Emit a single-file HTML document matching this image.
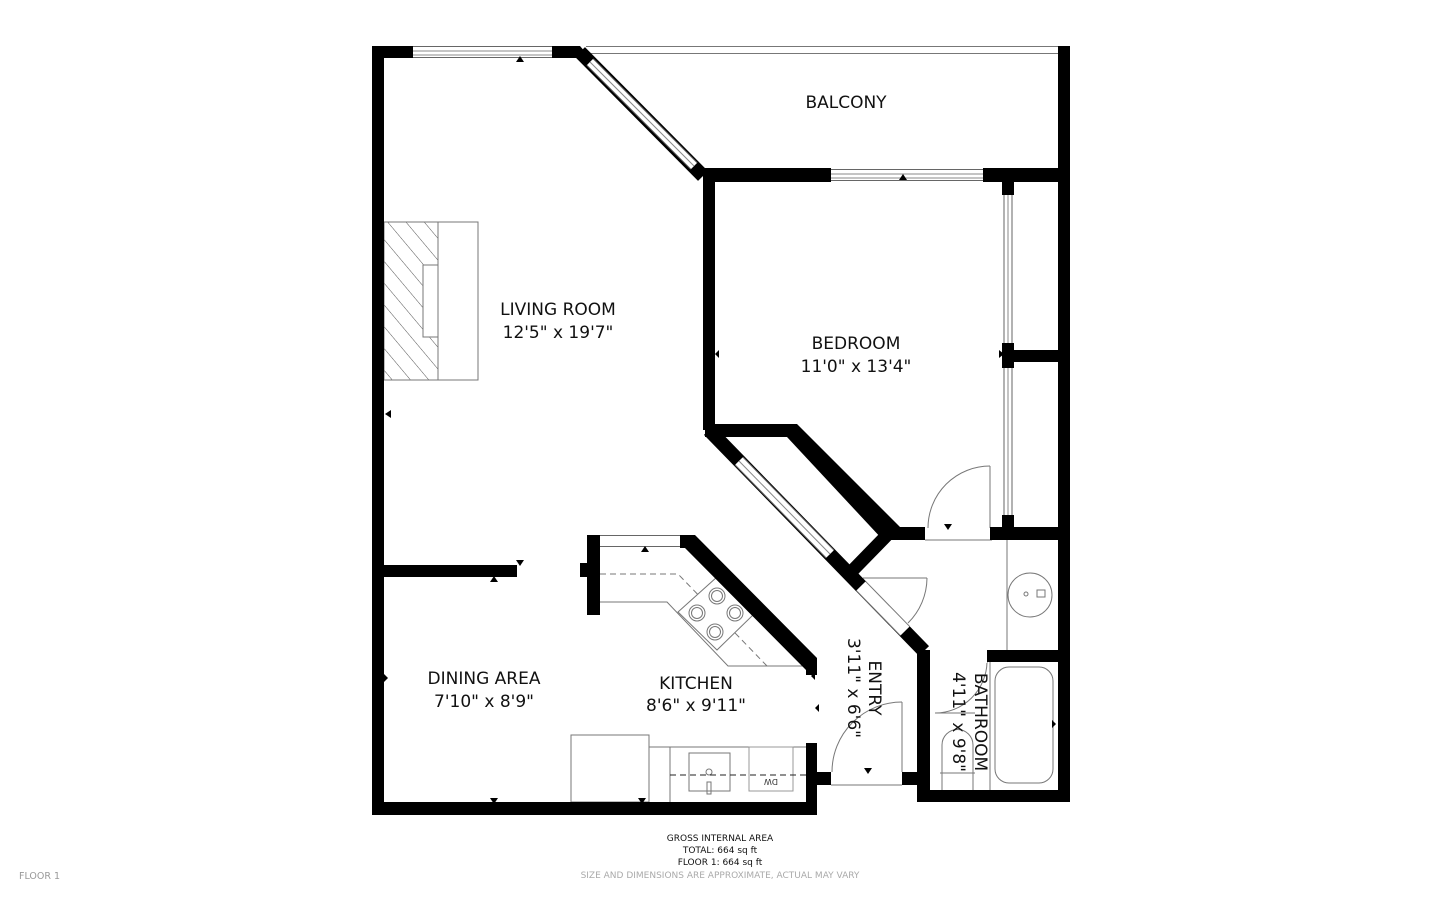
<!DOCTYPE html>
<html><head><meta charset="utf-8"><style>
html,body{margin:0;padding:0;background:#fff;}
svg{display:block;}
text{font-family:"DejaVu Sans","Liberation Sans",sans-serif;fill:#111;}
</style></head><body>
<svg width="1440" height="899" viewBox="0 0 1440 899" xmlns="http://www.w3.org/2000/svg">
<defs>
<pattern id="hatch" patternUnits="userSpaceOnUse" width="14" height="14" patternTransform="rotate(-40)">
<line x1="0" y1="0" x2="0" y2="14" stroke="#555" stroke-width="1"/>
</pattern>
</defs>
<g fill="none" stroke="#777" stroke-width="1">
<line x1="586" y1="46.5" x2="1058" y2="46.5"/>
<line x1="586" y1="53.5" x2="1058" y2="53.5"/>
<rect x="384" y="222" width="94" height="158" fill="#fff"/>
<rect x="384" y="222" width="54" height="158" fill="url(#hatch)"/>
<rect x="423" y="265" width="15" height="72" fill="#fff"/>
<polyline points="600,602 667,602 728,666 806,666"/>
<polyline points="600,574 678,574 767,666" stroke-dasharray="6,4"/>
<polygon points="717,577 753,615 717,650 678,612" fill="#fff"/>
<circle cx="717" cy="596" r="8"/><circle cx="717" cy="596" r="5.5"/>
<circle cx="697" cy="613" r="8"/><circle cx="697" cy="613" r="5.5"/>
<circle cx="735" cy="613" r="8"/><circle cx="735" cy="613" r="5.5"/>
<circle cx="715" cy="632" r="8"/><circle cx="715" cy="632" r="5.5"/>
<rect x="571" y="735" width="78" height="67"/>
<line x1="649" y1="747" x2="806" y2="747"/>
<line x1="670" y1="747" x2="670" y2="802"/>
<rect x="689" y="753" width="41" height="38"/>
<circle cx="709" cy="772" r="3"/>
<rect x="707" y="782" width="4" height="12"/>
<rect x="749" y="747" width="44" height="44" stroke="#999"/>
<line x1="670" y1="775" x2="806" y2="775" stroke="#222" stroke-dasharray="6,4"/>
<text x="771" y="785" font-size="8" transform="rotate(180 771 782)" text-anchor="middle" stroke="none" style="fill:#333">DW</text>
<line x1="1007" y1="540" x2="1007" y2="650"/>
<circle cx="1030" cy="595" r="22"/>
<circle cx="1026" cy="594" r="2"/>
<rect x="1037" y="590" width="8" height="7"/>
<line x1="990" y1="662" x2="990" y2="790"/>
<rect x="995" y="667" width="58" height="116" rx="14"/>
<path d="M942 790 L942 745 A15 15 0 0 1 973 745 L973 790"/>
<line x1="940" y1="773" x2="975" y2="773"/>
<path d="M990 466 A62 62 0 0 0 928 528"/>
<line x1="990" y1="466" x2="990" y2="528"/>
<path d="M927 578 A64 64 0 0 1 908 623"/>
<line x1="863" y1="578" x2="927" y2="578"/>
<path d="M902 702 A70 70 0 0 0 832 772"/>
<line x1="902" y1="702" x2="902" y2="772"/>
<line x1="831" y1="785" x2="902" y2="785"/>
<path d="M987 662 A52 52 0 0 1 935 713"/>
<line x1="935" y1="713" x2="975" y2="713"/>
<line x1="925" y1="540" x2="992" y2="540"/>
</g>
<g stroke-linecap="butt">
<g>
<line x1="413" y1="52" x2="552" y2="52" stroke="#666" stroke-width="12"/>
<line x1="413" y1="52" x2="552" y2="52" stroke="#fff" stroke-width="10"/>
<line x1="413" y1="51" x2="552" y2="51" stroke="#888" stroke-width="1"/>
<line x1="413" y1="55" x2="552" y2="55" stroke="#888" stroke-width="1"/>
</g>
<g>
<line x1="831" y1="175" x2="983" y2="175" stroke="#666" stroke-width="12"/>
<line x1="831" y1="175" x2="983" y2="175" stroke="#fff" stroke-width="10"/>
<line x1="831" y1="174" x2="983" y2="174" stroke="#888" stroke-width="1"/>
<line x1="831" y1="178" x2="983" y2="178" stroke="#888" stroke-width="1"/>
</g>
<g>
<line x1="1008" y1="195" x2="1008" y2="517" stroke="#666" stroke-width="9"/>
<line x1="1008" y1="195" x2="1008" y2="517" stroke="#fff" stroke-width="7"/>
<line x1="1008" y1="195" x2="1008" y2="517" stroke="#888" stroke-width="1"/>
</g>
<line x1="600" y1="541" x2="680" y2="541" stroke="#666" stroke-width="12"/>
<line x1="600" y1="541" x2="680" y2="541" stroke="#fff" stroke-width="10"/>
<line x1="930" y1="656" x2="987" y2="656" stroke="#fff" stroke-width="14"/>
</g>
<g fill="#000">
<rect x="372" y="46" width="12" height="769"/>
<rect x="372" y="46" width="41" height="12"/>
<polygon points="552,46 580,46 592,60 586,58 552,58"/>
<rect x="1058" y="46" width="12" height="756"/>
<rect x="703" y="168" width="128" height="14"/>
<rect x="983" y="168" width="87" height="14"/>
<rect x="703" y="168" width="12" height="262"/>
<rect x="1002" y="182" width="12" height="13"/>
<rect x="1002" y="343" width="12" height="25"/>
<rect x="1014" y="350" width="44" height="12"/>
<rect x="1002" y="515" width="12" height="13"/>
<rect x="705" y="424" width="90" height="13"/>
<polygon points="787,424 797,424 900,527 893,540 883,540 787,437"/>
<rect x="893" y="527" width="32" height="13"/>
<rect x="990" y="527" width="80" height="13"/>
<rect x="372" y="802" width="445" height="13"/>
<rect x="806" y="743" width="11" height="72"/>
<rect x="817" y="772" width="14" height="13"/>
<rect x="902" y="772" width="16" height="13"/>
<rect x="917" y="650" width="13" height="152"/>
<rect x="917" y="790" width="153" height="12"/>
<rect x="987" y="650" width="83" height="12"/>
<rect x="917" y="650" width="13" height="12"/>
<rect x="383" y="565" width="134" height="12"/>
<rect x="587" y="535" width="13" height="80"/>
<rect x="580" y="563" width="8" height="14"/>
<rect x="680" y="535" width="15" height="13"/>
<polygon points="680,535 695,535 817,658 817,675 806,675 806,670 685,548"/>
</g>
<g stroke-linecap="butt">
<line x1="580" y1="52" x2="703" y2="176" stroke="#000" stroke-width="14"/>
<line x1="590" y1="62" x2="694" y2="166" stroke="#666" stroke-width="10"/>
<line x1="590" y1="62" x2="694" y2="166" stroke="#fff" stroke-width="8"/>
<line x1="590" y1="62" x2="694" y2="166" stroke="#888" stroke-width="1"/>
<line x1="709" y1="430" x2="924" y2="651" stroke="#000" stroke-width="14"/>
<line x1="739" y1="461" x2="830" y2="554" stroke="#666" stroke-width="12"/>
<line x1="739" y1="461" x2="830" y2="554" stroke="#fff" stroke-width="10"/>
<line x1="739" y1="461" x2="830" y2="554" stroke="#888" stroke-width="1"/>
<line x1="861" y1="586" x2="905" y2="631" stroke="#777" stroke-width="14"/>
<line x1="861" y1="586" x2="905" y2="631" stroke="#fff" stroke-width="12"/>
<line x1="890" y1="532" x2="853" y2="570" stroke="#000" stroke-width="13"/>
</g>
<g fill="#000">
<polygon points="516,62 520,56 524,62"/>
<polygon points="899,180 903,174 907,180"/>
<polygon points="641,552 645,546 649,552"/>
<polygon points="490,582 494,576 498,582"/>
<polygon points="516,560 520,566 524,560"/>
<polygon points="490,798 494,804 498,798"/>
<polygon points="638,798 642,804 646,798"/>
<polygon points="864,768 868,774 872,768"/>
<polygon points="944,524 948,530 952,524"/>
<polygon points="385,410 391,414 385,418" transform="rotate(180 388 414)"/>
<polygon points="384,674 388,678 384,682"/>
<polygon points="715,350 719,354 715,358" transform="rotate(180 717 354)"/>
<polygon points="999,350 1004,354 999,358"/>
<polygon points="1052,720 1056,724 1052,728"/>
<polygon points="703,412 707,416 703,420"/>
<polygon points="815,672 811,676 815,680"/>
<polygon points="819,704 815,708 819,712"/>
</g>
<g font-size="17" text-anchor="middle">
<text x="846" y="108">BALCONY</text>
<text x="558" y="315">LIVING ROOM</text>
<text x="558" y="338">12'5" x 19'7"</text>
<text x="856" y="349">BEDROOM</text>
<text x="856" y="372">11'0" x 13'4"</text>
<text x="484" y="684">DINING AREA</text>
<text x="484" y="707">7'10" x 8'9"</text>
<text x="696" y="689">KITCHEN</text>
<text x="696" y="711">8'6" x 9'11"</text>
<text transform="translate(869,688) rotate(90)">ENTRY</text>
<text transform="translate(848,688) rotate(90)">3'11" x 6'6"</text>
<text transform="translate(975,722) rotate(90)">BATHROOM</text>
<text transform="translate(953,722) rotate(90)">4'11" x 9'8"</text>
</g>
<g font-size="9" text-anchor="middle">
<text x="720" y="841" fill="#333">GROSS INTERNAL AREA</text>
<text x="720" y="853" fill="#333">TOTAL: 664 sq ft</text>
<text x="720" y="865" fill="#333">FLOOR 1: 664 sq ft</text>
<text x="720" y="878" style="fill:#aaa">SIZE AND DIMENSIONS ARE APPROXIMATE, ACTUAL MAY VARY</text>
</g>
<text x="19" y="879" font-size="9.5" style="fill:#999">FLOOR 1</text>
</svg>
</body></html>
